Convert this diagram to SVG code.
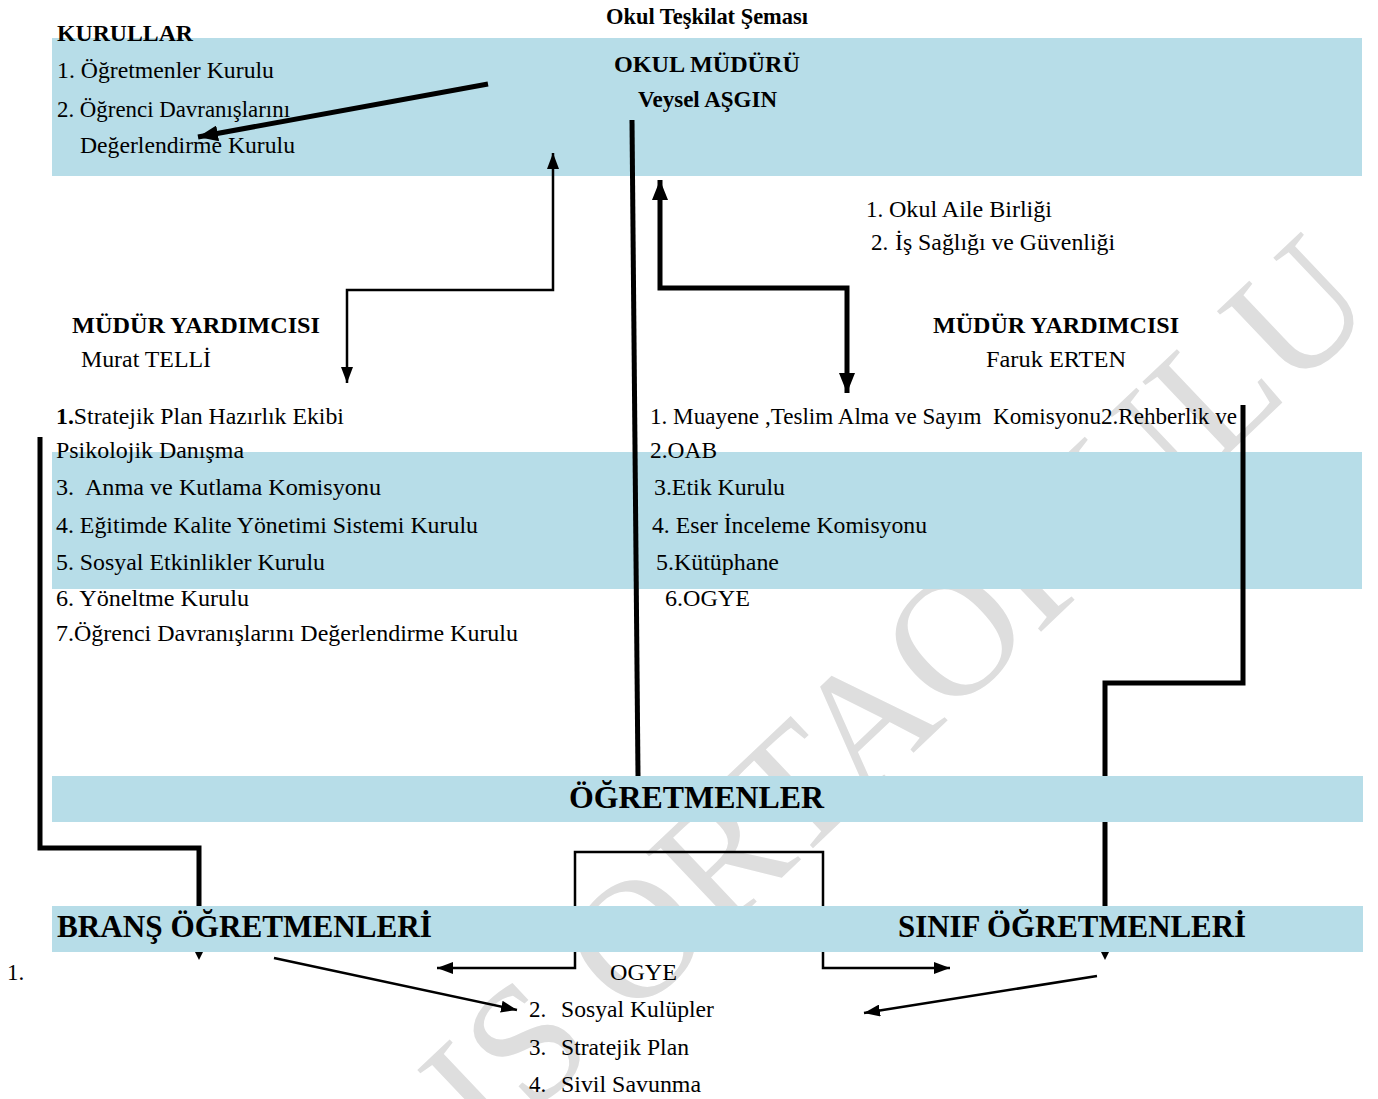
<svg xmlns="http://www.w3.org/2000/svg" width="1378" height="1099" viewBox="0 0 1378 1099">
<style>
.t{font-family:"Liberation Serif","Times New Roman",serif;font-size:23px;fill:#000}
.b{font-weight:bold}
.h{font-family:"Liberation Serif","Times New Roman",serif;font-size:24px;font-weight:bold;fill:#000}
.big{font-family:"Liberation Serif","Times New Roman",serif;font-size:32px;font-weight:bold;fill:#000}
.band{fill:#b7dde8}
.wm{font-family:"Liberation Serif","Times New Roman",serif;font-size:170px;fill:#dedede}
.thin{fill:none;stroke:#000;stroke-width:2.5}
.thick{fill:none;stroke:#000;stroke-width:5}
</style>
<defs>
<marker id="aThin" markerUnits="userSpaceOnUse" markerWidth="16" markerHeight="12" refX="16" refY="6" orient="auto-start-reverse"><path d="M0,0 L16,6 L0,12 z" fill="#000"/></marker>
<marker id="aThick" markerUnits="userSpaceOnUse" markerWidth="20" markerHeight="16" refX="20" refY="8" orient="auto-start-reverse"><path d="M0,0 L20,8 L0,16 z" fill="#000"/></marker>
<marker id="aSmall" markerUnits="userSpaceOnUse" markerWidth="8" markerHeight="8" refX="0" refY="4" orient="auto"><path d="M0,0 L8,4 L0,8 z" fill="#000"/></marker>
</defs>
<rect width="1378" height="1099" fill="#fff"/>
<text class="wm" x="1380" y="310" text-anchor="end" transform="rotate(-43.5 1380 310)">IS ORTAOKULU</text>

<g id="band-top"><rect class="band" x="52" y="38" width="1310" height="138"/></g>
<g id="band-middle"><rect class="band" x="52" y="452" width="1310" height="137"/></g>

<g id="connectors">
<path class="thick" d="M488,84 L198,137" marker-end="url(#aThick)"/>
<path class="thin" d="M553,153 V290 H347 V383" marker-start="url(#aThin)" marker-end="url(#aThin)"/>
<path class="thick" d="M632,120 L638,776"/>
<path class="thick" d="M660,180 V288 H847 V393" marker-start="url(#aThick)" marker-end="url(#aThick)"/>
<path class="thick" d="M40,437 V848 H199 V952" marker-end="url(#aSmall)"/>
<path class="thick" d="M1243,405 V683 H1105 V952" marker-end="url(#aSmall)"/>
<path class="thin" d="M437,968 H575 V852 H823 V968 H950" marker-start="url(#aThin)" marker-end="url(#aThin)"/>
<path class="thin" d="M274,958 L517,1010" marker-end="url(#aThin)"/>
<path class="thin" d="M1097,976 L864,1013" marker-end="url(#aThin)"/>
</g>

<g id="title"><text class="t b" x="606" y="24" font-size="22" textLength="202" lengthAdjust="spacingAndGlyphs">Okul Teşkilat Şeması</text></g>

<g id="kurullar">
<text class="h" x="57" y="41" textLength="136" lengthAdjust="spacingAndGlyphs">KURULLAR</text>
<text class="t" x="57" y="78" textLength="217" lengthAdjust="spacingAndGlyphs">1. Öğretmenler Kurulu</text>
<text class="t" x="57" y="117" textLength="233" lengthAdjust="spacingAndGlyphs">2. Öğrenci Davranışlarını</text>
<text class="t" x="80" y="153" textLength="215" lengthAdjust="spacingAndGlyphs">Değerlendirme Kurulu</text>
</g>

<g id="okul-muduru">
<text class="h" x="614" y="72" textLength="186" lengthAdjust="spacingAndGlyphs">OKUL MÜDÜRÜ</text>
<text class="h" x="638" y="107" textLength="139" lengthAdjust="spacingAndGlyphs">Veysel AŞGIN</text>
</g>

<g id="aile-birligi">
<text class="t" x="866" y="217" font-size="27">1.</text>
<text class="t" x="889" y="217" textLength="163" lengthAdjust="spacingAndGlyphs">Okul Aile Birliği</text>
<text class="t" x="871" y="250" font-size="27">2.</text>
<text class="t" x="895" y="250" textLength="220" lengthAdjust="spacingAndGlyphs">İş Sağlığı ve Güvenliği</text>
</g>

<g id="mudur-yardimcisi-1">
<text class="h" x="72" y="333" textLength="248" lengthAdjust="spacingAndGlyphs">MÜDÜR YARDIMCISI</text>
<text class="t" x="81" y="367" textLength="130" lengthAdjust="spacingAndGlyphs">Murat TELLİ</text>
</g>

<g id="mudur-yardimcisi-2">
<text class="h" x="933" y="333" textLength="246" lengthAdjust="spacingAndGlyphs">MÜDÜR YARDIMCISI</text>
<text class="t" x="986" y="367" textLength="140" lengthAdjust="spacingAndGlyphs">Faruk ERTEN</text>
</g>

<g id="liste-sol">
<text class="t" x="56" y="424" textLength="288" lengthAdjust="spacingAndGlyphs"><tspan font-weight="bold">1.</tspan>Stratejik Plan Hazırlık Ekibi</text>
<text class="t" x="56" y="458" textLength="188" lengthAdjust="spacingAndGlyphs">Psikolojik Danışma</text>
<text class="t" x="56" y="495" textLength="325" lengthAdjust="spacingAndGlyphs" xml:space="preserve">3.  Anma ve Kutlama Komisyonu</text>
<text class="t" x="56" y="533" textLength="422" lengthAdjust="spacingAndGlyphs">4. Eğitimde Kalite Yönetimi Sistemi Kurulu</text>
<text class="t" x="56" y="570" textLength="269" lengthAdjust="spacingAndGlyphs">5. Sosyal Etkinlikler Kurulu</text>
<text class="t" x="56" y="606" textLength="193" lengthAdjust="spacingAndGlyphs">6. Yöneltme Kurulu</text>
<text class="t" x="56" y="641" textLength="462" lengthAdjust="spacingAndGlyphs">7.Öğrenci Davranışlarını Değerlendirme Kurulu</text>
</g>

<g id="liste-sag">
<text class="t" x="650" y="424" textLength="587" lengthAdjust="spacingAndGlyphs" xml:space="preserve">1. Muayene ,Teslim Alma ve Sayım  Komisyonu2.Rehberlik ve</text>
<text class="t" x="650" y="458" textLength="67" lengthAdjust="spacingAndGlyphs">2.OAB</text>
<text class="t" x="654" y="495" textLength="131" lengthAdjust="spacingAndGlyphs">3.Etik Kurulu</text>
<text class="t" x="652" y="533" textLength="275" lengthAdjust="spacingAndGlyphs">4. Eser İnceleme Komisyonu</text>
<text class="t" x="656" y="570" textLength="123" lengthAdjust="spacingAndGlyphs">5.Kütüphane</text>
<text class="t" x="665" y="606" textLength="85" lengthAdjust="spacingAndGlyphs">6.OGYE</text>
</g>

<g id="ogretmenler">
<rect class="band" x="52" y="776" width="1311" height="46"/>
<text class="big" x="569" y="808" textLength="255" lengthAdjust="spacingAndGlyphs">ÖĞRETMENLER</text>
</g>

<g id="brans-sinif-band"><rect class="band" x="52" y="906" width="1311" height="46"/></g>
<g id="brans-ogretmenleri"><text class="big" x="57" y="937" textLength="375" lengthAdjust="spacingAndGlyphs">BRANŞ ÖĞRETMENLERİ</text></g>
<g id="sinif-ogretmenleri"><text class="big" x="898" y="937" textLength="348" lengthAdjust="spacingAndGlyphs">SINIF ÖĞRETMENLERİ</text></g>

<g id="ogye-liste">
<text class="t" x="7" y="980">1.</text>
<text class="t" x="610" y="980" textLength="67" lengthAdjust="spacingAndGlyphs">OGYE</text>
<text class="t" x="529" y="1017">2.</text>
<text class="t" x="561" y="1017" textLength="153" lengthAdjust="spacingAndGlyphs">Sosyal Kulüpler</text>
<text class="t" x="529" y="1055">3.</text>
<text class="t" x="561" y="1055" textLength="128" lengthAdjust="spacingAndGlyphs">Stratejik Plan</text>
<text class="t" x="529" y="1092">4.</text>
<text class="t" x="561" y="1092" textLength="140" lengthAdjust="spacingAndGlyphs">Sivil Savunma</text>
</g>
</svg>
